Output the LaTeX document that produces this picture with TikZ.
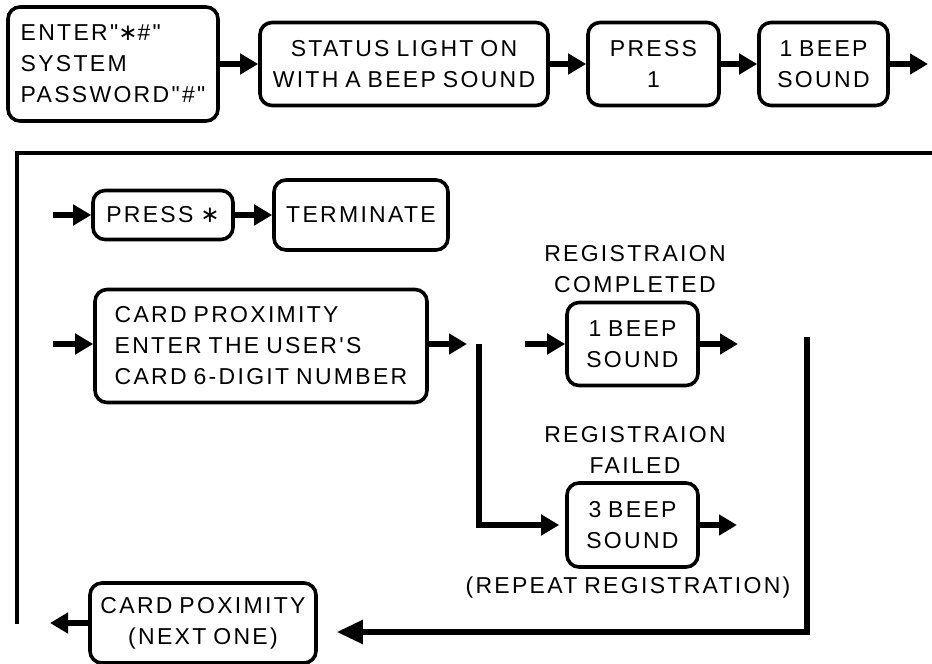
\documentclass[tikz,border=0pt]{standalone}
\usepackage{fontspec}
\setmainfont{Liberation Sans}[Ligatures=TeXOff,LetterSpace=10,WordSpace=0.8]
\newfontfamily\symfont{DejaVu Sans}
\newcommand{\starsym}{{\symfont ∗}}
\usetikzlibrary{arrows.meta}

\begin{document}
\begin{tikzpicture}[x=0.5pt,y=-0.5pt,
  txt/.style={inner sep=0pt,align=center,font=\fontsize{11.5}{15.5}\selectfont},
  box/.style={txt,draw,line width=1.8pt,rounded corners=6pt},
  dims/.style 2 args={minimum width=#1*0.5pt,minimum height=#2*0.5pt},
  arr/.style={line width=2.6pt,-{Triangle[length=9pt,width=10pt]}},
  bigarr/.style={line width=2.6pt,-{Triangle[length=13pt,width=11.5pt]}},
  frame/.style={line width=2.2pt}]
  \useasboundingbox (0,0) rectangle (932,664);

  % top row
  \node[box,dims={210}{114},align=left] (b1) at (113,64)
    {ENTER"\starsym\#"\\SYSTEM\\PASSWORD"\#"};
  \node[box,dims={288}{83}] (b2) at (404,64) {STATUS LIGHT ON\\WITH A BEEP SOUND};
  \node[box,dims={131}{83}] (b3) at (653.5,64) {PRESS\\1};
  \node[box,dims={129}{83}] (b4) at (823.5,64) {1 BEEP\\SOUND};
  \coordinate (tr) at (928,64);
  \draw[arr] (b1) -- (b2);
  \draw[arr] (b2) -- (b3);
  \draw[arr] (b3) -- (b4);
  \draw[arr] (b4) -- (tr);

  % return frame
  \coordinate (f1) at (932,153);
  \coordinate (f2) at (17,153);
  \coordinate (f3) at (17,624);
  \draw[frame] (f1) -- (f2) -- (f3);

  % terminate branch
  \coordinate (s1) at (53,215);
  \node[box,dims={140}{49}] (ps) at (163,215) {PRESS \starsym};
  \node[box,dims={174}{70}] (term) at (361,215) {TERMINATE};
  \draw[arr] (s1) -- (ps);
  \draw[arr] (ps) -- (term);

  % card registration branch
  \coordinate (s2) at (53,344);
  \node[box,dims={332}{113},align=left] (card) at (261,346)
    {CARD PROXIMITY\\ENTER THE USER'S\\CARD 6-DIGIT NUMBER};
  \coordinate (c1) at (467,344);
  \draw[arr] (s2) -- (card.west |- s2);
  \draw[arr] (card.east |- c1) -- (c1);

  % outcomes
  \node[box,dims={131}{83}] (bc) at (632.5,344) {1 BEEP\\SOUND};
  \node[box,dims={131}{84}] (bf) at (632.5,525) {3 BEEP\\SOUND};
  \node[txt] (lc) at (635,269) {REGISTRAION\\COMPLETED};
  \node[txt] (lf) at (635,450) {REGISTRAION\\FAILED};
  \node[txt] (lr) at (628,588) {(REPEAT REGISTRATION)};
  \coordinate (s3) at (525,344);
  \coordinate (br) at (479,344);
  \coordinate (c2) at (738,344);
  \coordinate (c3) at (737,525);
  \draw[arr] (s3) -- (bc);
  \draw[arr] (bc) -- (c2);
  \draw[arr,shorten >=3pt] (br) |- (bf);
  \draw[arr] (bf) -- (c3);

  % next card
  \node[box,dims={226}{80}] (np) at (203,623) {CARD POXIMITY\\(NEXT ONE)};
  \coordinate (r1) at (807,337);
  \coordinate (r2) at (807,632);
  \coordinate (e1) at (50,623);
  \draw[bigarr,shorten >=9.5pt] (r1) -- (r2) -- (np.east |- r2);
  \draw[arr] (np) -- (e1);
\end{tikzpicture}
\end{document}
